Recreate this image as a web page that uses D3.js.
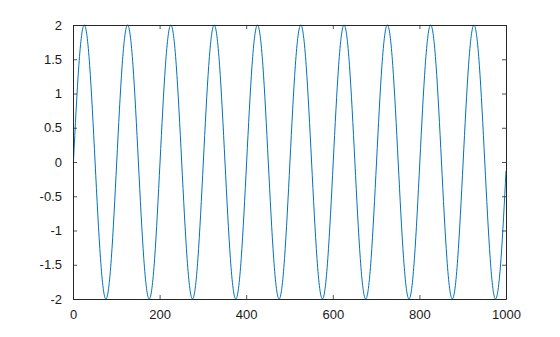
<!DOCTYPE html>
<html>
<head>
<meta charset="utf-8">
<script src="https://cdn.jsdelivr.net/npm/d3@7"></script>
<style>
  body { margin: 0; background: #fff; }
  svg { display: block; }
</style>
</head>
<body>
<svg width="560" height="337"></svg>
<script>
// --- Data (samples every 12.5 along x) ---
const sampleX = [
  1, 13.5, 26, 38.5, 51, 63.5, 76, 88.5,
  101, 113.5, 126, 138.5, 151, 163.5, 176, 188.5,
  201, 213.5, 226, 238.5, 251, 263.5, 276, 288.5,
  301, 313.5, 326, 338.5, 351, 363.5, 376, 388.5,
  401, 413.5, 426, 438.5, 451, 463.5, 476, 488.5,
  501, 513.5, 526, 538.5, 551, 563.5, 576, 588.5,
  601, 613.5, 626, 638.5, 651, 663.5, 676, 688.5,
  701, 713.5, 726, 738.5, 751, 763.5, 776, 788.5,
  801, 813.5, 826, 838.5, 851, 863.5, 876, 888.5,
  901, 913.5, 926, 938.5, 951, 963.5, 976, 988.5,
  1000
];
const sampleY = [
  0, 1.41, 2, 1.41, 0, -1.41, -2, -1.41,
  0, 1.41, 2, 1.41, 0, -1.41, -2, -1.41,
  0, 1.41, 2, 1.41, 0, -1.41, -2, -1.41,
  0, 1.41, 2, 1.41, 0, -1.41, -2, -1.41,
  0, 1.41, 2, 1.41, 0, -1.41, -2, -1.41,
  0, 1.41, 2, 1.41, 0, -1.41, -2, -1.41,
  0, 1.41, 2, 1.41, 0, -1.41, -2, -1.41,
  0, 1.41, 2, 1.41, 0, -1.41, -2, -1.41,
  0, 1.41, 2, 1.41, 0, -1.41, -2, -1.41,
  0, 1.41, 2, 1.41, 0, -1.41, -2, -1.41,
  -0.13
];
const xTicks = [0, 200, 400, 600, 800, 1000];
const yTicks = [-2, -1.5, -1, -0.5, 0, 0.5, 1, 1.5, 2];

// --- Setup ---
const svg = d3.select("svg");
const mLeft = 73, mRight = 506, mTop = 25, mBottom = 299;

const x = d3.scaleLinear().domain([0, 1000]).range([mLeft, mRight]);
const y = d3.scaleLinear().domain([-2, 2]).range([mBottom, mTop]);

const data = sampleX.map((d, i) => ({x: d, y: sampleY[i]}));

// --- Curve ---
svg.append("defs").append("clipPath").attr("id", "clip")
  .append("rect")
    .attr("x", mLeft).attr("y", mTop - 1)
    .attr("width", mRight - mLeft).attr("height", mBottom - mTop + 2);

const line = d3.line()
  .x(d => x(d.x))
  .y(d => y(d.y))
  .curve(d3.curveNatural);

svg.append("path")
  .datum(data)
  .attr("clip-path", "url(#clip)")
  .attr("fill", "none")
  .attr("stroke", "#0072bd")
  .attr("stroke-width", 1)
  .attr("d", line);

// --- Axes (box with inward ticks on all sides) ---
const axisColor = "#262626";
const fontFamily = "'Liberation Sans', Arial, Helvetica, sans-serif";
const fmt = d => String(d);

const bottomAxis = svg.append("g")
  .attr("transform", `translate(0,${mBottom})`)
  .call(d3.axisBottom(x).tickValues(xTicks).tickSizeInner(-4).tickSizeOuter(0).tickPadding(11).tickFormat(fmt));
const leftAxis = svg.append("g")
  .attr("transform", `translate(${mLeft},0)`)
  .call(d3.axisLeft(y).tickValues(yTicks).tickSizeInner(-4).tickSizeOuter(0).tickPadding(11).tickFormat(fmt));
const topAxis = svg.append("g")
  .attr("transform", `translate(0,${mTop})`)
  .call(d3.axisTop(x).tickValues(xTicks).tickSizeInner(-4).tickSizeOuter(0).tickFormat(""));
const rightAxis = svg.append("g")
  .attr("transform", `translate(${mRight},0)`)
  .call(d3.axisRight(y).tickValues(yTicks).tickSizeInner(-4).tickSizeOuter(0).tickFormat(""));

[bottomAxis, leftAxis, topAxis, rightAxis].forEach(g => {
  g.select(".domain").attr("stroke", axisColor).attr("stroke-width", 1);
  g.selectAll(".tick line").attr("stroke", axisColor).attr("stroke-width", 0.8);
  g.selectAll(".tick text")
    .attr("fill", "#1a1a1a")
    .style("font-family", fontFamily)
    .style("font-size", "13px");
});
</script>
</body>
</html>
